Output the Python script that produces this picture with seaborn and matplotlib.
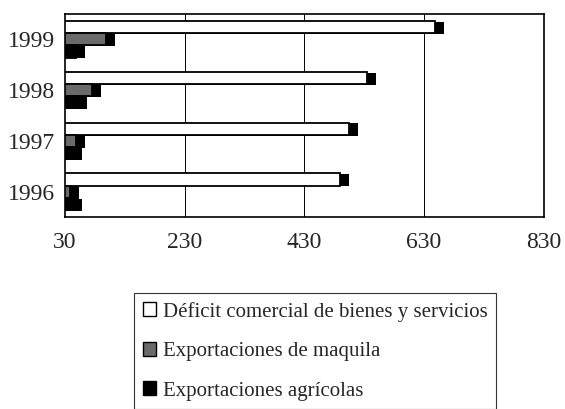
import pandas as pd
import numpy as np
import matplotlib
matplotlib.use('Agg')
import matplotlib.pyplot as plt
import matplotlib.patheffects as pe
import seaborn as sns

# --- datos ---
years = ['1999', '1998', '1997', '1996']
series = ['Déficit comercial de bienes y servicios',
          'Exportaciones de maquila',
          'Exportaciones agrícolas']
deficit = [648, 535, 504, 489]
maquila = [98, 75, 49, 38]
agricolas = [48, 51, 43, 43]
xticks = [30, 230, 430, 630, 830]

df = pd.DataFrame({
    'year': years * 3,
    'serie': [series[0]] * 4 + [series[1]] * 4 + [series[2]] * 4,
    'valor': deficit + maquila + agricolas,
})

sns.set_style('white')
plt.rcParams['font.family'] = ['Liberation Serif', 'DejaVu Serif']

fig = plt.figure(figsize=(5.65, 4.09), dpi=100)
ax = fig.add_axes([0.115, 0.469, 0.847, 0.497])

colores = ['white', '#6a6a6a', 'black']
sns.barplot(data=df, x='valor', y='year', hue='serie', order=years,
            hue_order=series, palette=colores, orient='h', width=0.72,
            edgecolor='black', linewidth=1.3, saturation=1, ax=ax,
            legend=False)

# sombra negra al final de cada barra
for p in ax.patches:
    p.set_path_effects([pe.SimplePatchShadow(offset=(6.5, -0.5),
                                             shadow_rgbFace='black', alpha=1),
                        pe.Normal()])

ax.set_xlim(30, 830)
ax.set_xticks(xticks)
ax.set_xticklabels([str(t) for t in xticks], fontsize=17)
ax.tick_params(axis='y', labelsize=17, length=3, pad=4)
ax.tick_params(axis='x', length=3, pad=8)
ax.set_xlabel('')
ax.set_ylabel('')
for x in xticks[1:-1]:
    ax.axvline(x, color='black', linewidth=0.7, zorder=0)
for s in ax.spines.values():
    s.set_color('black')
    s.set_linewidth(1.2)

handles = [plt.Rectangle((0, 0), 1, 1, facecolor=c, edgecolor='black', linewidth=1)
           for c in colores]
leg = fig.legend(handles, series, loc='upper left',
                 bbox_to_anchor=(124 / 565, 1 - 283 / 409), fontsize=15,
                 handlelength=0.65, handleheight=0.65, handletextpad=0.3,
                 labelspacing=0.97, borderpad=0.4, frameon=True, fancybox=False)
leg.get_frame().set_edgecolor('black')
leg.get_frame().set_linewidth(0.8)

fig.savefig('out.png', dpi=100)
